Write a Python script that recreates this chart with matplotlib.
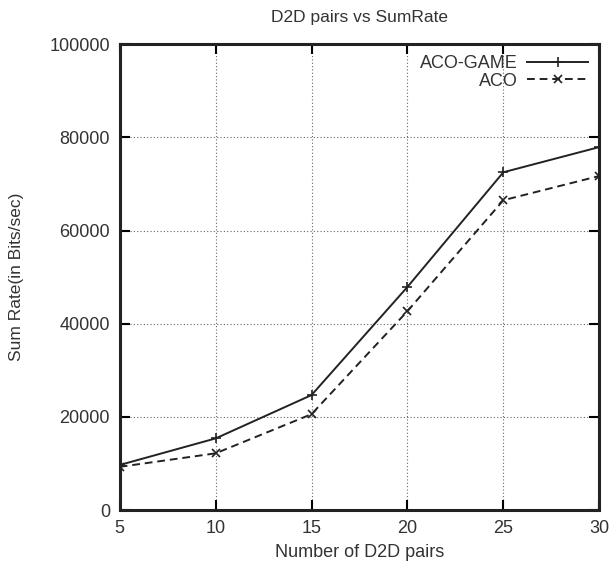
import matplotlib
matplotlib.use("Agg")
import matplotlib.pyplot as plt

plt.rcParams['font.family'] = ['Liberation Sans', 'DejaVu Sans']

# data
pairs = [5, 10, 15, 20, 25, 30]
aco_game = [9700, 15400, 24700, 47900, 72500, 77900]
aco = [9300, 12200, 20600, 42700, 66500, 71700]

fig = plt.figure(figsize=(6.14, 5.65), dpi=100)
ax = fig.add_axes([0.195, 0.097, 0.781, 0.825])

ax.plot(pairs, aco_game, color='#222222', lw=1.4, marker='+', ms=7, mew=1.2, label='ACO-GAME')
ax.plot(pairs, aco, color='#222222', lw=1.4, ls=(0, (4, 2.5)), marker='x', ms=6, mew=1.2, label='ACO')

ax.set_xlim(5, 30)
ax.set_ylim(0, 100000)
ax.set_xticks(pairs)
ax.set_yticks(range(0, 100001, 20000))
ax.grid(True, ls=(0, (1, 2)), color='#666666', lw=0.8)

for s in ax.spines.values():
    s.set_linewidth(2.2)
    s.set_color('#222222')
ax.tick_params(direction='in', top=True, right=True, length=7, width=1.5, labelsize=13, pad=7,
               labelcolor='#333333')

ax.set_title('D2D pairs vs SumRate', fontsize=12.5, pad=16, color='#333333')
ax.set_xlabel('Number of D2D pairs', fontsize=13, labelpad=5, color='#333333')
ax.set_ylabel('Sum Rate(in Bits/sec)', fontsize=12.5, labelpad=18, color='#333333')

leg = ax.legend(loc='upper right', frameon=False, fontsize=13, markerfirst=False,
                handlelength=3.4, borderaxespad=0.2, labelspacing=0.05, handletextpad=0.5)
for t in leg.get_texts():
    t.set_color('#333333')

fig.savefig('out.png', dpi=100)
